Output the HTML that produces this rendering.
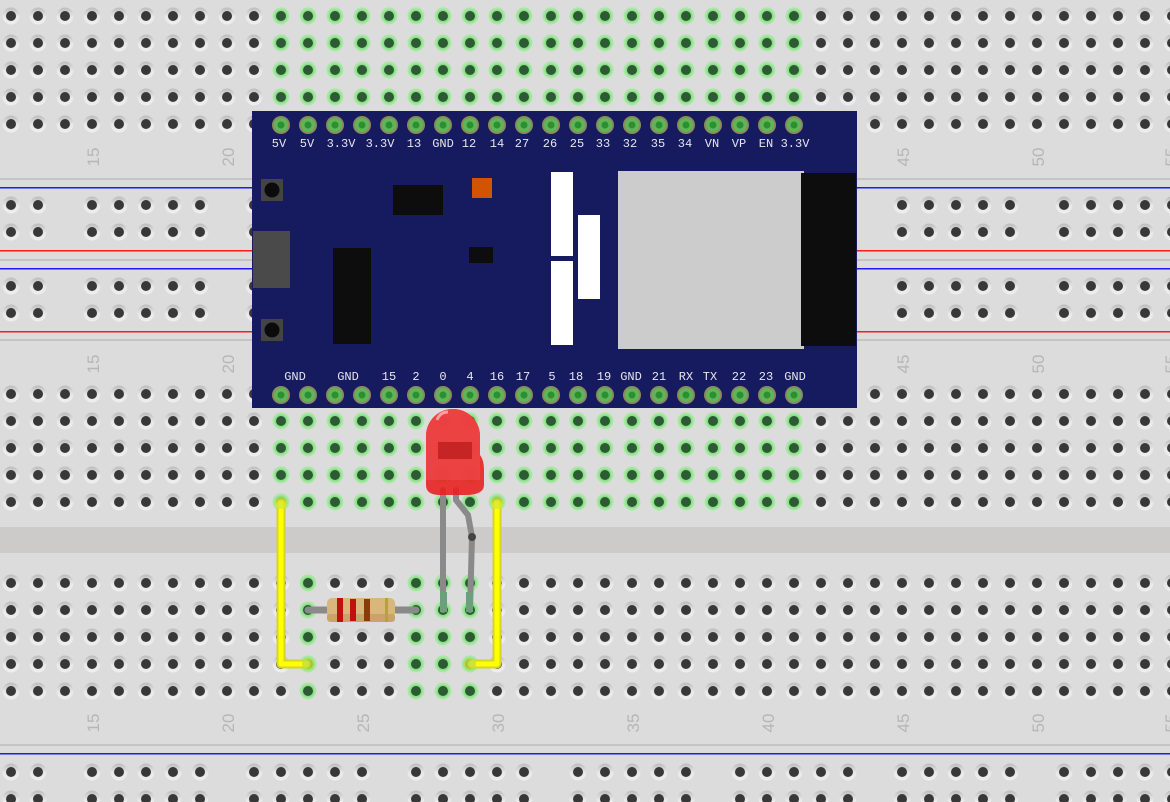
<!DOCTYPE html>
<html><head><meta charset="utf-8"><style>html,body{margin:0;padding:0;background:#dcdcdc}svg{display:block}</style></head><body>
<svg width="1170" height="802" viewBox="0 0 1170 802" xmlns="http://www.w3.org/2000/svg">
<defs>
<linearGradient id="hg" x1="0" y1="0" x2="0" y2="1"><stop offset="0" stop-color="#bcbcbc"/><stop offset="0.55" stop-color="#e9e9e9"/><stop offset="1" stop-color="#efefef"/></linearGradient>
<g id="h"><circle r="8.5" fill="url(#hg)"/><circle r="5" fill="#383838"/></g>
<g id="gh"><circle r="8.5" fill="#a6e9a2"/><circle r="6.5" fill="#8fdc8c"/><circle r="5" fill="#2c5a33"/></g>
<g id="bp"><circle r="9" fill="#8c8a5c"/><circle r="7" fill="#5fb55a"/><circle r="3.5" fill="#2e8f2e"/></g>
<pattern id="ph" patternUnits="userSpaceOnUse" x="-2.5" y="2.5" width="27" height="27"><use href="#h" x="13.5" y="13.5"/></pattern>
<pattern id="pg" patternUnits="userSpaceOnUse" x="-2.5" y="2.5" width="27" height="27"><use href="#gh" x="13.5" y="13.5"/></pattern>
<pattern id="pr" patternUnits="userSpaceOnUse" x="-83.5" y="191.5" width="162" height="27">
<use href="#h" x="13.5" y="13.5"/><use href="#h" x="40.5" y="13.5"/><use href="#h" x="67.5" y="13.5"/><use href="#h" x="94.5" y="13.5"/><use href="#h" x="121.5" y="13.5"/></pattern>
<pattern id="pr2" patternUnits="userSpaceOnUse" x="-83.5" y="272.5" width="162" height="27">
<use href="#h" x="13.5" y="13.5"/><use href="#h" x="40.5" y="13.5"/><use href="#h" x="67.5" y="13.5"/><use href="#h" x="94.5" y="13.5"/><use href="#h" x="121.5" y="13.5"/></pattern>
<pattern id="pr3" patternUnits="userSpaceOnUse" x="-83.5" y="758.5" width="162" height="27">
<use href="#h" x="13.5" y="13.5"/><use href="#h" x="40.5" y="13.5"/><use href="#h" x="67.5" y="13.5"/><use href="#h" x="94.5" y="13.5"/><use href="#h" x="121.5" y="13.5"/></pattern>
</defs>
<rect width="1170" height="802" fill="#dcdcdc"/>
<!-- separators -->
<rect x="0" y="178" width="1170" height="2" fill="#c4c4c4"/>
<rect x="0" y="187" width="1170" height="1.5" fill="#1a1aff"/>
<rect x="0" y="250" width="1170" height="1.5" fill="#ff1a1a"/>
<rect x="0" y="259" width="1170" height="2" fill="#c4c4c4"/>
<rect x="0" y="268" width="1170" height="1.5" fill="#1a1aff"/>
<rect x="0" y="331" width="1170" height="1.5" fill="#ff1a1a"/>
<rect x="0" y="339" width="1170" height="2" fill="#c4c4c4"/>
<rect x="0" y="527" width="1170" height="26" fill="#cdcbc9"/>
<rect x="0" y="744" width="1170" height="2" fill="#c4c4c4"/>
<rect x="0" y="753" width="1170" height="1.5" fill="#1a1aff"/>
<!-- holes -->
<rect x="0" y="2.5" width="1170" height="135" fill="url(#ph)"/>
<rect x="267.5" y="2.5" width="540" height="108" fill="url(#pg)"/>
<rect x="0" y="191.5" width="1170" height="54" fill="url(#pr)"/>
<rect x="0" y="272.5" width="1170" height="54" fill="url(#pr2)"/>
<rect x="0" y="758.5" width="1170" height="44" fill="url(#pr3)"/>
<rect x="0" y="380.5" width="1170" height="135" fill="url(#ph)"/>
<rect x="267.5" y="407.5" width="540" height="108" fill="url(#pg)"/>
<rect x="0" y="569.5" width="1170" height="135" fill="url(#ph)"/>
<rect x="294.5" y="569.5" width="27" height="135" fill="url(#pg)"/>
<rect x="402.5" y="569.5" width="81" height="135" fill="url(#pg)"/>
<!-- column labels -->
<g font-family="Liberation Sans, sans-serif" font-size="17" fill="#b6b6b6" text-anchor="middle">
<g id="lbl">
<text transform="translate(99,157) rotate(-90)">15</text>
<text transform="translate(234,157) rotate(-90)">20</text>
<text transform="translate(909,157) rotate(-90)">45</text>
<text transform="translate(1044,157) rotate(-90)">50</text>
<text transform="translate(1177,157) rotate(-90)">55</text>
</g>
<text transform="translate(99,364) rotate(-90)">15</text>
<text transform="translate(234,364) rotate(-90)">20</text>
<text transform="translate(909,364) rotate(-90)">45</text>
<text transform="translate(1044,364) rotate(-90)">50</text>
<text transform="translate(1177,364) rotate(-90)">55</text>
<text transform="translate(99,723) rotate(-90)">15</text>
<text transform="translate(234,723) rotate(-90)">20</text>
<text transform="translate(369,723) rotate(-90)">25</text>
<text transform="translate(504,723) rotate(-90)">30</text>
<text transform="translate(639,723) rotate(-90)">35</text>
<text transform="translate(774,723) rotate(-90)">40</text>
<text transform="translate(909,723) rotate(-90)">45</text>
<text transform="translate(1044,723) rotate(-90)">50</text>
<text transform="translate(1177,723) rotate(-90)">55</text>
</g>
<!-- board -->
<rect x="252" y="111" width="605" height="297" fill="#161a5e"/>
<g>
<use href="#bp" x="281" y="125"/><use href="#bp" x="308" y="125"/><use href="#bp" x="335" y="125"/><use href="#bp" x="362" y="125"/><use href="#bp" x="389" y="125"/><use href="#bp" x="416" y="125"/><use href="#bp" x="443" y="125"/><use href="#bp" x="470" y="125"/><use href="#bp" x="497" y="125"/><use href="#bp" x="524" y="125"/><use href="#bp" x="551" y="125"/><use href="#bp" x="578" y="125"/><use href="#bp" x="605" y="125"/><use href="#bp" x="632" y="125"/><use href="#bp" x="659" y="125"/><use href="#bp" x="686" y="125"/><use href="#bp" x="713" y="125"/><use href="#bp" x="740" y="125"/><use href="#bp" x="767" y="125"/><use href="#bp" x="794" y="125"/>
<use href="#bp" x="281" y="395"/><use href="#bp" x="308" y="395"/><use href="#bp" x="335" y="395"/><use href="#bp" x="362" y="395"/><use href="#bp" x="389" y="395"/><use href="#bp" x="416" y="395"/><use href="#bp" x="443" y="395"/><use href="#bp" x="470" y="395"/><use href="#bp" x="497" y="395"/><use href="#bp" x="524" y="395"/><use href="#bp" x="551" y="395"/><use href="#bp" x="578" y="395"/><use href="#bp" x="605" y="395"/><use href="#bp" x="632" y="395"/><use href="#bp" x="659" y="395"/><use href="#bp" x="686" y="395"/><use href="#bp" x="713" y="395"/><use href="#bp" x="740" y="395"/><use href="#bp" x="767" y="395"/><use href="#bp" x="794" y="395"/>
</g>
<g font-family="Liberation Mono, monospace" font-size="12" fill="#e6e6ee" text-anchor="middle">
<text x="279" y="147">5V</text><text x="307" y="147">5V</text><text x="341" y="147">3.3V</text><text x="380" y="147">3.3V</text><text x="414" y="147">13</text><text x="443" y="147">GND</text><text x="469" y="147">12</text><text x="497" y="147">14</text><text x="522" y="147">27</text><text x="550" y="147">26</text><text x="577" y="147">25</text><text x="603" y="147">33</text><text x="630" y="147">32</text><text x="658" y="147">35</text><text x="685" y="147">34</text><text x="712" y="147">VN</text><text x="739" y="147">VP</text><text x="766" y="147">EN</text><text x="795" y="147">3.3V</text>
<text x="295" y="380">GND</text><text x="348" y="380">GND</text><text x="389" y="380">15</text><text x="416" y="380">2</text><text x="443" y="380">0</text><text x="470" y="380">4</text><text x="497" y="380">16</text><text x="523" y="380">17</text><text x="552" y="380">5</text><text x="576" y="380">18</text><text x="604" y="380">19</text><text x="631" y="380">GND</text><text x="659" y="380">21</text><text x="686" y="380">RX</text><text x="710" y="380">TX</text><text x="739" y="380">22</text><text x="766" y="380">23</text><text x="795" y="380">GND</text>
</g>
<rect x="261" y="179" width="22" height="22" fill="#444"/><circle cx="272" cy="190" r="7.5" fill="#0b0b0b"/>
<rect x="261" y="319" width="22" height="22" fill="#444"/><circle cx="272" cy="330" r="7.5" fill="#0b0b0b"/>
<rect x="253" y="231" width="37" height="57" fill="#4a4a4a"/>
<rect x="393" y="185" width="50" height="30" fill="#0d0d0d"/>
<rect x="472" y="178" width="20" height="20" fill="#d35400"/>
<rect x="333" y="248" width="38" height="96" fill="#0d0d0d"/>
<rect x="469" y="247" width="24" height="16" fill="#0d0d0d"/>
<rect x="551" y="172" width="22" height="84" fill="#fff"/>
<rect x="551" y="261" width="22" height="84" fill="#fff"/>
<rect x="578" y="215" width="22" height="84" fill="#fff"/>
<rect x="618" y="171" width="186" height="178" fill="#cccccc"/>
<rect x="801" y="173" width="55" height="173" fill="#0d0d0d"/>
<!-- wires -->
<g fill="none" stroke-linecap="round" stroke-linejoin="round">
<path d="M281 504 V664 H306" stroke="#d4d42a" stroke-width="9"/>
<path d="M281 504 V664 H306" stroke="#ffff00" stroke-width="5"/>
<path d="M497 504 V664 H472" stroke="#d4d42a" stroke-width="9"/>
<path d="M497 504 V664 H472" stroke="#ffff00" stroke-width="5"/>
</g>
<circle cx="281" cy="503" r="6" fill="#d8e830" opacity=".8"/><circle cx="497" cy="503" r="6" fill="#d8e830" opacity=".8"/>
<circle cx="308" cy="664" r="6" fill="#c0e040" opacity=".8"/><circle cx="470" cy="664" r="6" fill="#c0e040" opacity=".8"/>
<!-- resistor -->
<path d="M308 610 H416" stroke="#8a8a8a" stroke-width="7" stroke-linecap="round"/>
<rect x="327" y="598" width="68" height="24" rx="5" fill="#d9b77c"/>
<rect x="327" y="614" width="68" height="8" rx="3" fill="#c29a5e" opacity=".7"/>
<rect x="337" y="598" width="6" height="24" fill="#c01010"/>
<rect x="350" y="599" width="6" height="22" fill="#c01010"/>
<rect x="364" y="599" width="6" height="22" fill="#8b3a0a"/>
<rect x="385" y="598" width="3" height="24" fill="#b8a040"/>
<!-- LED legs -->
<g fill="none" stroke="#8a8a8a" stroke-width="6" stroke-linecap="round" stroke-linejoin="round">
<path d="M443 490 V610"/>
<path d="M456 490 V500 L468 515 L472 537 L470 610"/>
</g>
<rect x="440" y="592" width="7" height="20" fill="#6aa07a"/>
<rect x="466" y="592" width="7" height="20" fill="#6aa07a"/>
<circle cx="472" cy="537" r="4" fill="#444"/>
<!-- LED -->
<g>
<path d="M426 436 A27 27 0 0 1 480 436 V455 Q484 460 484 470 V485 Q484 495 465 495 H440 Q426 495 426 485 Z" fill="#e81c1c" opacity=".88"/>
<path d="M426 436 A27 27 0 0 1 480 436 V480 H426 Z" fill="#ec4444" opacity=".9"/>
<rect x="438" y="442" width="34" height="17" fill="#b81a1a" opacity=".7"/>
<path d="M437 420 Q440 412 448 412" stroke="#f7a0a0" stroke-width="3" fill="none"/>
</g>
</svg>
</body></html>
